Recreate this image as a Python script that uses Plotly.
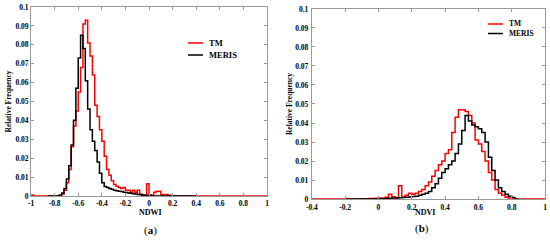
import numpy as np
import plotly.graph_objects as go

BIN = 0.02

# ---- Panel (a): NDWI ----
ndwi_tm_start = -1.00
ndwi_tm = [0.0005, 0, 0, 0, 0, 0, 0, 0, 0, 0, 0, 0, 0,
           0.001, 0.003, 0.007, 0.014, 0.026, 0.037, 0.045, 0.055, 0.068, 0.091,
           0.093, 0.081, 0.074, 0.064, 0.048, 0.042, 0.035, 0.029, 0.021, 0.014,
           0.011, 0.008, 0.006, 0.005, 0.0045, 0.004, 0.0045, 0.003, 0.003, 0.002,
           0.003, 0.002, 0.003, 0.001, 0.0005, 0.0003, 0.0065, 0.0005, 0.0003,
           0.002, 0.0025, 0.0025, 0.0005, 0.0008, 0.0008, 0.0003,
           0, 0, 0, 0, 0, 0, 0, 0, 0, 0, 0, 0, 0, 0, 0, 0, 0, 0, 0, 0, 0,
           0, 0, 0, 0, 0, 0, 0, 0, 0, 0, 0, 0, 0, 0, 0, 0, 0, 0, 0, 0, 0]

ndwi_meris_start = -0.86
ndwi_meris = [0, 0, 0, 0, 0,
              0.0005, 0.0015, 0.004, 0.009, 0.016, 0.027, 0.040, 0.057, 0.073,
              0.085, 0.078, 0.061, 0.046, 0.035, 0.029, 0.024, 0.018, 0.012,
              0.007, 0.005, 0.0045, 0.004, 0.0035, 0.003, 0.0028, 0.0025, 0.0023,
              0.002, 0.0018, 0.0016, 0.0014, 0.0012, 0.001, 0.0008, 0.0006,
              0.0004, 0.0003, 0.0002, 0.0002,
              0, 0, 0, 0, 0, 0, 0, 0, 0, 0, 0, 0, 0, 0, 0, 0, 0, 0, 0]

# ---- Panel (b): NDVI ----
ndvi_tm_start = -0.40
ndvi_tm = [0, 0, 0, 0, 0, 0, 0, 0, 0, 0, 0, 0, 0, 0, 0,
           0.0002, 0.0002, 0.0003, 0.0003, 0.0004,
           0.0005, 0.0005, 0.001, 0.0025, 0.0012, 0.0005, 0.007, 0.001, 0.002,
           0.003, 0.0025, 0.003, 0.004, 0.005, 0.007, 0.009, 0.012, 0.015,
           0.018, 0.020, 0.024, 0.026, 0.035, 0.043, 0.047, 0.047, 0.046,
           0.044, 0.040, 0.031, 0.029, 0.025, 0.020, 0.014, 0.010, 0.005,
           0.003, 0.002, 0.001, 0.0005,
           0, 0, 0, 0, 0, 0, 0, 0, 0, 0]

ndvi_meris_start = -0.20
ndvi_meris = [0, 0, 0, 0, 0, 0, 0, 0, 0, 0,
              0.0002, 0.0002, 0.0003, 0.0004, 0.0005, 0.0006, 0.0007, 0.0008,
              0.001, 0.0011, 0.0013, 0.0015, 0.002, 0.0025, 0.003, 0.004,
              0.006, 0.008, 0.011, 0.014, 0.016, 0.018, 0.020, 0.024, 0.029,
              0.036, 0.044, 0.041, 0.039, 0.038, 0.037, 0.035, 0.030, 0.022,
              0.015, 0.010, 0.006, 0.004, 0.0025, 0.0015, 0.0008, 0.0002]

y_ticks = [0, 0.01, 0.02, 0.03, 0.04, 0.05, 0.06, 0.07, 0.08, 0.09, 0.1]
y_ticktext = ["0", "0.01", "0.02", "0.03", "0.04", "0.05", "0.06", "0.07", "0.08", "0.09", "0.1"]
xa_ticks = [-1, -0.8, -0.6, -0.4, -0.2, 0, 0.2, 0.4, 0.6, 0.8, 1]
xa_ticktext = ["-1", "-0.8", "-0.6", "-0.4", "-0.2", "0", "0.2", "0.4", "0.6", "0.8", "1"]
xb_ticks = [-0.4, -0.2, 0, 0.2, 0.4, 0.6, 0.8, 1]
xb_ticktext = ["-0.4", "-0.2", "0", "0.2", "0.4", "0.6", "0.8", "1"]
series_names = ["TM", "MERIS"]
series_colors = ["#ff0000", "#000000"]

FONT = "Liberation Serif"
W, H = 550, 241


def step_xy(start, vals):
    n = len(vals)
    x = [round(start + BIN * i, 4) for i in range(n + 1)]
    y = list(vals) + [vals[-1]]
    return x, y


fig = go.Figure()

for (start, vals, k, xa, ya) in [
    (ndwi_tm_start, ndwi_tm, 0, "x", "y"),
    (ndwi_meris_start, ndwi_meris, 1, "x", "y"),
    (ndvi_tm_start, ndvi_tm, 0, "x2", "y2"),
    (ndvi_meris_start, ndvi_meris, 1, "x2", "y2"),
]:
    x, y = step_xy(start, vals)
    fig.add_trace(go.Scatter(x=x, y=y, mode="lines", name=series_names[k],
                             line=dict(color=series_colors[k], width=1.5, shape="hv"),
                             xaxis=xa, yaxis=ya, showlegend=False))

tickfont = dict(family=FONT, size=7.5, color="black", weight="bold")
axis_common = dict(showgrid=False, zeroline=False, showline=True, linecolor="#9a9a9a",
                   linewidth=1, mirror="ticks", ticks="inside", ticklen=3,
                   tickcolor="#9a9a9a", tickfont=tickfont, automargin=False)

fig.update_layout(
    width=W, height=H, margin=dict(l=0, r=0, t=0, b=0),
    paper_bgcolor="white", plot_bgcolor="white", template="none",
    font=dict(family=FONT, color="black"),
    showlegend=False,
    xaxis=dict(domain=[0.0564, 0.4855], range=[-1, 1], tickvals=xa_ticks, ticktext=xa_ticktext,
               anchor="y", **axis_common),
    yaxis=dict(domain=[0.187, 0.971], range=[0, 0.1], tickvals=y_ticks, ticktext=y_ticktext,
               anchor="x", title=dict(text="<b>Relative Frequency</b>", font=dict(size=7.5), standoff=2),
               **axis_common),
    xaxis2=dict(domain=[0.567, 0.991], range=[-0.4, 1], tickvals=xb_ticks, ticktext=xb_ticktext,
                anchor="y2", ticklabelstandoff=1, **axis_common),
    yaxis2=dict(domain=[0.174, 0.963], range=[0, 0.1], tickvals=y_ticks, ticktext=y_ticktext,
                anchor="x2", ticklabelstandoff=1,
                title=dict(text="<b>Relative Frequency</b>", font=dict(size=7.5), standoff=1),
                **axis_common),
)


def ann(text, px, py, size, xanchor="center"):
    fig.add_annotation(text=text, x=px / W, y=1 - py / H, xref="paper", yref="paper",
                       xanchor=xanchor, yanchor="middle", showarrow=False,
                       font=dict(family=FONT, size=size, color="black"))


# x-axis titles and panel captions
ann("<b>NDWI</b>", 150, 212, 8)
ann("<b>NDVI</b>", 425, 212, 8)
ann("(<b>a</b>)", 150, 230, 11)
ann("(<b>b</b>)", 422, 228, 11)

# legends (drawn as key lines + labels)
for (lx0, lx1, ys, fs) in [(188, 203, [43, 55], 8.5), (488, 503, [24, 33.5], 7.5)]:
    for k, yy in enumerate(ys):
        fig.add_shape(type="line", xref="paper", yref="paper",
                      x0=lx0 / W, x1=lx1 / W, y0=1 - yy / H, y1=1 - yy / H,
                      line=dict(color=series_colors[k], width=1.5))
        ann("<b>%s</b>" % series_names[k], lx1 + 4, yy, fs, xanchor="left")

fig.write_html("out.html")
